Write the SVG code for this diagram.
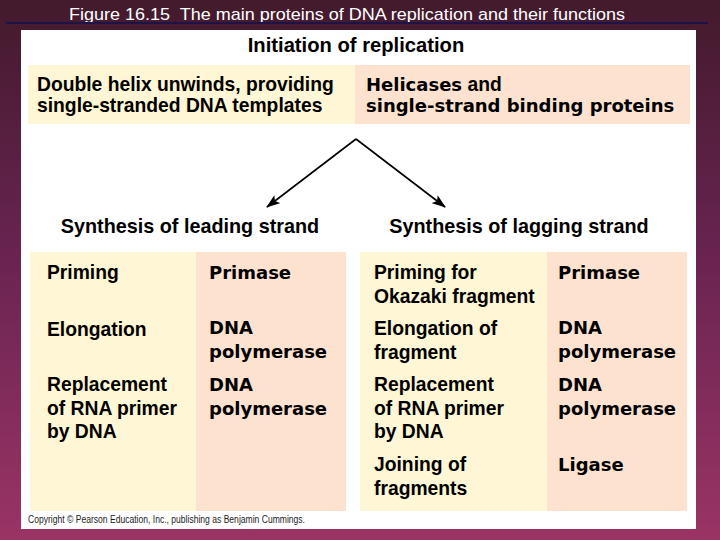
<svg xmlns="http://www.w3.org/2000/svg" width="720" height="540" viewBox="0 0 720 540">
  <defs>
    <linearGradient id="bg" x1="0" y1="0" x2="0" y2="1">
      <stop offset="0" stop-color="#431a2c"/>
      <stop offset="0.45" stop-color="#672350"/>
      <stop offset="1" stop-color="#9a3465"/>
    </linearGradient>
    <marker id="arr" viewBox="0 0 14 10" refX="13" refY="5" markerWidth="14" markerHeight="10" markerUnits="userSpaceOnUse" orient="auto">
      <path d="M0,0 L14,5 L0,10 L3,5 Z" fill="#000"/>
    </marker>
    <style>
      .t { font-family: "Liberation Sans", Arial, sans-serif; font-weight: bold; font-size: 19.3px; fill: #000; }
      .h { font-family: "DejaVu Sans", "Liberation Sans", sans-serif; font-weight: bold; font-size: 18px; fill: #000; }
      .yel { fill: #fef6d4; }
      .pch { fill: #fde2cf; }
      .conn { stroke: #000; stroke-width: 1.6; fill: none; }
    </style>
  </defs>

  <rect x="0" y="0" width="720" height="540" fill="url(#bg)"/>
  <text x="69" y="20" xml:space="preserve" font-family="Liberation Sans, Arial, sans-serif" font-size="17" textLength="556" lengthAdjust="spacingAndGlyphs" fill="#ffffff">Figure 16.15  The main proteins of DNA replication and their functions</text>
  <line x1="6" y1="23" x2="708" y2="23" stroke="#1c1448" stroke-width="2"/>

  <rect x="21" y="30" width="675" height="499" fill="#ffffff"/>

  <text class="t" x="356" y="52" text-anchor="middle" style="font-size:20.2px">Initiation of replication</text>

  <g id="top-left">
    <rect class="yel" x="28" y="65" width="327" height="59"/>
    <text class="t" x="37" y="91">Double helix unwinds, providing</text>
    <text class="t" x="37" y="112">single-stranded DNA templates</text>
  </g>
  <g id="top-right">
    <rect class="pch" x="355" y="65" width="335" height="59"/>
    <text x="366" y="91"><tspan class="h">Helicases</tspan><tspan class="t"> and</tspan></text>
    <text class="h" x="366" y="112">single-strand binding proteins</text>
  </g>

  <g id="connectors">
    <path class="conn" d="M356,139 L267,207" marker-end="url(#arr)"/>
    <path class="conn" d="M356,139 L445,207" marker-end="url(#arr)"/>
  </g>

  <text class="t" x="190" y="233" text-anchor="middle" style="font-size:19.8px">Synthesis of leading strand</text>
  <text class="t" x="519" y="233" text-anchor="middle" style="font-size:19.8px">Synthesis of lagging strand</text>

  <g id="leading">
    <rect class="yel" x="30" y="252" width="166" height="259"/>
    <rect class="pch" x="196" y="252" width="150" height="259"/>
    <text class="t" x="47" y="279">Priming</text>
    <text class="h" x="209" y="279">Primase</text>
    <text class="t" x="47" y="336">Elongation</text>
    <text class="h" x="209" y="334">DNA</text>
    <text class="h" x="209" y="358">polymerase</text>
    <text class="t" x="47" y="391">Replacement</text>
    <text class="t" x="47" y="415">of RNA primer</text>
    <text class="t" x="47" y="438">by DNA</text>
    <text class="h" x="209" y="391">DNA</text>
    <text class="h" x="209" y="415">polymerase</text>
  </g>

  <g id="lagging">
    <rect class="yel" x="360" y="252" width="187" height="259"/>
    <rect class="pch" x="547" y="252" width="140" height="259"/>
    <text class="t" x="374" y="279">Priming for</text>
    <text class="t" x="374" y="303">Okazaki fragment</text>
    <text class="h" x="558" y="279">Primase</text>
    <text class="t" x="374" y="335">Elongation of</text>
    <text class="t" x="374" y="359">fragment</text>
    <text class="h" x="558" y="334">DNA</text>
    <text class="h" x="558" y="358">polymerase</text>
    <text class="t" x="374" y="391">Replacement</text>
    <text class="t" x="374" y="415">of RNA primer</text>
    <text class="t" x="374" y="438">by DNA</text>
    <text class="h" x="558" y="391">DNA</text>
    <text class="h" x="558" y="415">polymerase</text>
    <text class="t" x="374" y="471">Joining of</text>
    <text class="t" x="374" y="495">fragments</text>
    <text class="h" x="558" y="471">Ligase</text>
  </g>

  <text x="28" y="523" font-family="Liberation Sans, Arial, sans-serif" font-size="10" textLength="277" lengthAdjust="spacingAndGlyphs" fill="#222">Copyright © Pearson Education, Inc., publishing as Benjamin Cummings.</text>
</svg>
